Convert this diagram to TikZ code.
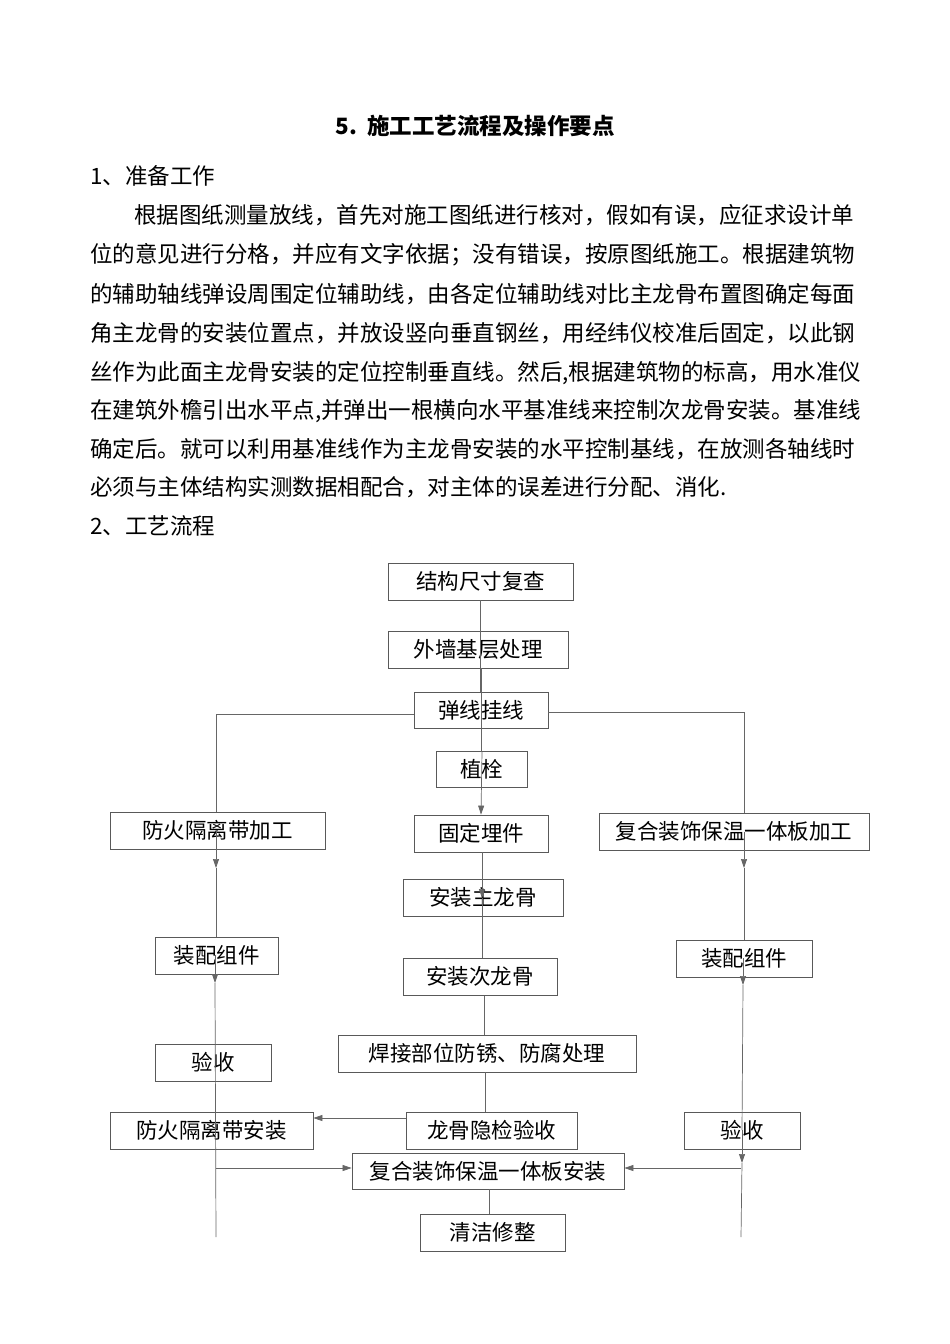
\documentclass[tikz,border=0pt]{standalone}
\usepackage{fontspec}
\setmainfont{Liberation Serif}
\newfontfamily\cjk{Noto Sans CJK SC}
\usetikzlibrary{arrows.meta}
\begin{document}
\begin{tikzpicture}[x=1pt,y=-1pt,
  box/.style={draw=black!65,line width=0.8pt,inner sep=0pt,font=\cjk\fontsize{21.5}{23}\selectfont},
  ln/.style={draw=black!60,line width=0.7pt},
  arr/.style={ln,-{Triangle[length=9pt,width=6pt]}},
  txt/.style={anchor=base west,inner sep=0pt,font=\cjk\fontsize{22.5}{24}\selectfont}]
\useasboundingbox (0,0) rectangle (950,1344);
\node[anchor=base,inner sep=0pt,font=\cjk\bfseries\fontsize{22.5}{24}\selectfont] (title) at (475,134) {5.\ \ 施工工艺流程及操作要点};
\node[txt] (h1) at (90,184) {1、准备工作};
\node[txt] (p1) at (134,223) {根据图纸测量放线，首先对施工图纸进行核对，假如有误，应征求设计单};
\node[txt] (p2) at (90,262) {位的意见进行分格，并应有文字依据；没有错误，按原图纸施工。根据建筑物};
\node[txt] (p3) at (90,302) {的辅助轴线弹设周围定位辅助线，由各定位辅助线对比主龙骨布置图确定每面};
\node[txt] (p4) at (90,341) {角主龙骨的安装位置点，并放设竖向垂直钢丝，用经纬仪校准后固定，以此钢};
\node[txt] (p5) at (90,380) {丝作为此面主龙骨安装的定位控制垂直线。然后,根据建筑物的标高，用水准仪};
\node[txt] (p6) at (90,418) {在建筑外檐引出水平点,并弹出一根横向水平基准线来控制次龙骨安装。基准线};
\node[txt] (p7) at (90,457) {确定后。就可以利用基准线作为主龙骨安装的水平控制基线，在放测各轴线时};
\node[txt] (p8) at (90,495) {必须与主体结构实测数据相配合，对主体的误差进行分配、消化.};
\node[txt] (h2) at (90,534) {2、工艺流程};
% boxes
\node[box,minimum width=185,minimum height=37] (A) at (480.5,581.5) {结构尺寸复查};
\node[box,minimum width=180,minimum height=37] (B) at (478,649.5) {外墙基层处理};
\node[box,minimum width=134,minimum height=36] (C) at (481,710) {弹线挂线};
\node[box,minimum width=91,minimum height=36] (D) at (481.5,769) {植栓};
\node[box,minimum width=134,minimum height=37] (E) at (481,833.5) {固定埋件};
\node[box,minimum width=160,minimum height=37] (F) at (483,897.5) {安装主龙骨};
\node[box,minimum width=154,minimum height=37] (G) at (480,976.5) {安装次龙骨};
\node[box,minimum width=298,minimum height=37] (H) at (487,1053.5) {焊接部位防锈、防腐处理};
\node[box,minimum width=171,minimum height=37] (I) at (491.5,1130.5) {龙骨隐检验收};
\node[box,minimum width=272,minimum height=36] (J) at (488,1171) {复合装饰保温一体板安装};
\node[box,minimum width=145,minimum height=37] (K) at (492.5,1232.5) {清洁修整};
\node[box,minimum width=215,minimum height=37] (L1) at (217.5,830.5) {防火隔离带加工};
\node[box,minimum width=123,minimum height=37] (L2) at (216.5,955.5) {装配组件};
\node[box,minimum width=116,minimum height=37] (L3) at (213,1062.5) {验收};
\node[box,minimum width=203,minimum height=37] (L4) at (211.5,1130.5) {防火隔离带安装};
\node[box,minimum width=270,minimum height=37] (R1) at (734,831.5) {复合装饰保温一体板加工};
\node[box,minimum width=136,minimum height=37] (R2) at (744,958.5) {装配组件};
\node[box,minimum width=116,minimum height=37] (R3) at (742,1130.5) {验收};
% coordinates
\coordinate (cl) at (216,714);
\coordinate (cr) at (744,712);
\coordinate (lb) at (216,1237);
\coordinate (rb) at (741,1237);
\coordinate (lj) at (216,1168);
\coordinate (rj) at (741,1168);
% center chain
\draw[ln] (A.south) -- (B.south -| A.south) -- (C.north -| A.south);
\draw[ln] (481,668) -- (481,752);
\draw[arr] (482,752) -- (E.north);
\draw[arr] (482,852) -- (482,898);
\draw[ln] (482,898) -- (G.north -| 482,0) ;
\draw[ln] (484,996) -- (484,1035);
\draw[ln] (485,1072) -- (485,1112);
\draw[ln] (489,1189) -- (489,1214);
% branches
\draw[ln] (C.west |- cl) -- (cl) -- (L1.north -| cl);
\draw[ln] (C.east |- cr) -- (cr) -- (R1.north -| cr);
\draw[arr] (216,830) -- (216,868);
\draw[ln] (216,868) -- (L2.north -| 216,0);
\draw[arr] (215,955) -- (215,983);
\draw[ln] (215,983) -- (lb);
\draw[arr] (744,832) -- (744,868);
\draw[ln] (744,868) -- (R2.north -| 744,0);
\draw[arr] (743,958) -- (743,985);
\draw[ln] (743,985) -- (742,1130);
\draw[arr] (742,1130) -- (742,1163);
\draw[ln] (742,1163) -- (rb);
\draw[arr] (I.west |- 0,1118) -- (L4.east |- 0,1118);
\draw[arr] (lj) -- (J.west |- lj);
\draw[arr] (rj) -- (J.east |- rj);
\end{tikzpicture}
\end{document}
